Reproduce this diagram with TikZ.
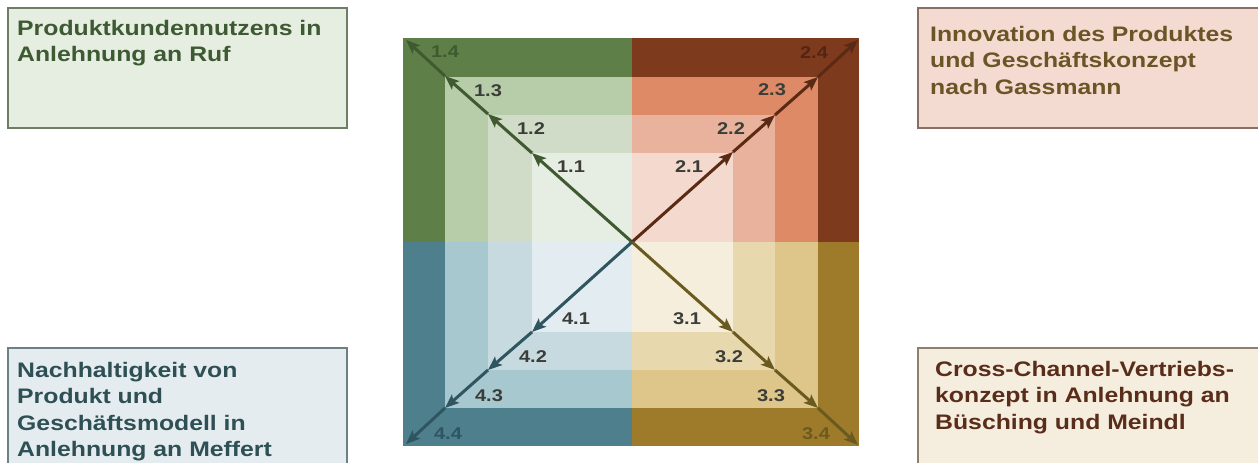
\documentclass[tikz,border=0pt]{standalone}
\usepackage{fontspec}
\setmainfont{Liberation Sans}[FakeStretch=1.18]
\usetikzlibrary{arrows.meta}
% quadrant colours
\definecolor{gA}{HTML}{5E8048}\definecolor{gB}{HTML}{B7CCA8}\definecolor{gC}{HTML}{D0DCC8}\definecolor{gD}{HTML}{E6EEE3}
\definecolor{rA}{HTML}{7E3A1C}\definecolor{rB}{HTML}{DE8A66}\definecolor{rC}{HTML}{E8B29C}\definecolor{rD}{HTML}{F4D9CE}
\definecolor{yA}{HTML}{9E7B2A}\definecolor{yB}{HTML}{DEC68A}\definecolor{yC}{HTML}{E8D8AE}\definecolor{yD}{HTML}{F5EEDC}
\definecolor{bA}{HTML}{4E7F8C}\definecolor{bB}{HTML}{A8C8D0}\definecolor{bC}{HTML}{C6DAE0}\definecolor{bD}{HTML}{E3ECF0}
% arrow colours
\definecolor{gL}{HTML}{3F5A30}\definecolor{rL}{HTML}{5A2A14}\definecolor{yL}{HTML}{6B5A20}\definecolor{bL}{HTML}{2F5560}
% label colours
\definecolor{lblgray}{HTML}{3B3D38}
% box colours
\definecolor{tlfill}{HTML}{E6EDE1}\definecolor{tldraw}{HTML}{6E7E66}\definecolor{tltext}{HTML}{3D5A33}
\definecolor{trfill}{HTML}{F3DBD1}\definecolor{trdraw}{HTML}{8A6E64}\definecolor{trtext}{HTML}{6B5526}
\definecolor{blfill}{HTML}{E4ECEF}\definecolor{bldraw}{HTML}{6C8085}\definecolor{bltext}{HTML}{2E5055}
\definecolor{brfill}{HTML}{F5EDDE}\definecolor{brdraw}{HTML}{8C806C}\definecolor{brtext}{HTML}{5A2D1B}
\begin{document}
\begin{tikzpicture}[x=1pt,y=-1pt,
  arr/.style={line width=3pt,-{Stealth[length=14pt,width=11pt,inset=3pt]}},
  lbl/.style={font=\bfseries\fontsize{17}{17}\selectfont,inner sep=0pt,text=lblgray},
  infobox/.style={line width=1.3pt},
  boxtext/.style={font=\bfseries\fontsize{21}{26.5}\selectfont,align=left,inner sep=0pt,anchor=north west}]
\useasboundingbox (0,0) rectangle (1258,463);
\clip (0,0) rectangle (1258,463);
% quadrant 1 (green, top left)
\fill[gA] (403,38) rectangle (632,242);
\fill[gB] (445,77) rectangle (632,242);
\fill[gC] (488,115) rectangle (632,242);
\fill[gD] (532,153) rectangle (632,242);
% quadrant 2 (red, top right)
\fill[rA] (632,38) rectangle (859,242);
\fill[rB] (632,77) rectangle (818,242);
\fill[rC] (632,115) rectangle (775,242);
\fill[rD] (632,153) rectangle (733,242);
% quadrant 3 (gold, bottom right)
\fill[yA] (632,242) rectangle (859,446);
\fill[yB] (632,242) rectangle (818,408);
\fill[yC] (632,242) rectangle (775,370);
\fill[yD] (632,242) rectangle (733,332);
% quadrant 4 (blue, bottom left)
\fill[bA] (403,242) rectangle (632,446);
\fill[bB] (445,242) rectangle (632,408);
\fill[bC] (488,242) rectangle (632,370);
\fill[bD] (532,242) rectangle (632,332);
% coordinates
\coordinate (c) at (632,242);
\coordinate (p11) at (532,153);\coordinate (p12) at (488,114);\coordinate (p13) at (445,76);\coordinate (p14) at (406,40);
\coordinate (p21) at (733,152);\coordinate (p22) at (775,115);\coordinate (p23) at (818,77);\coordinate (p24) at (858,40);
\coordinate (p31) at (733,332);\coordinate (p32) at (775,370);\coordinate (p33) at (818,408);\coordinate (p34) at (858,445);
\coordinate (p41) at (532,332);\coordinate (p42) at (488,370);\coordinate (p43) at (445,408);\coordinate (p44) at (406,444);
% arrows
\draw[arr,gL] (c) -- (p11);\draw[arr,gL] (p11) -- (p12);\draw[arr,gL] (p12) -- (p13);\draw[arr,gL] (p13) -- (p14);
\draw[arr,rL] (c) -- (p21);\draw[arr,rL] (p21) -- (p22);\draw[arr,rL] (p22) -- (p23);\draw[arr,rL] (p23) -- (p24);
\draw[arr,yL] (c) -- (p31);\draw[arr,yL] (p31) -- (p32);\draw[arr,yL] (p32) -- (p33);\draw[arr,yL] (p33) -- (p34);
\draw[arr,bL] (c) -- (p41);\draw[arr,bL] (p41) -- (p42);\draw[arr,bL] (p42) -- (p43);\draw[arr,bL] (p43) -- (p44);
% labels
\node[lbl] (l11) at (571,167) {1.1};
\node[lbl] (l12) at (531,129) {1.2};
\node[lbl] (l13) at (488,91) {1.3};
\node[lbl,text=gL] (l14) at (445,52) {1.4};
\node[lbl] (l21) at (689,167) {2.1};
\node[lbl] (l22) at (731,129) {2.2};
\node[lbl] (l23) at (772,90) {2.3};
\node[lbl,text=rL!90!black] (l24) at (814,53) {2.4};
\node[lbl] (l31) at (687,319) {3.1};
\node[lbl] (l32) at (729,357) {3.2};
\node[lbl] (l33) at (771,396) {3.3};
\node[lbl,text=yL] (l34) at (816,434) {3.4};
\node[lbl] (l41) at (576,319) {4.1};
\node[lbl] (l42) at (533,357) {4.2};
\node[lbl] (l43) at (489,396) {4.3};
\node[lbl,text=bL] (l44) at (448,434) {4.4};
% boxes
\draw[infobox,fill=tlfill,draw=tldraw] (8,8) rectangle (347,128);
\draw[infobox,fill=trfill,draw=trdraw] (918,8) rectangle (1265,128);
\draw[infobox,fill=blfill,draw=bldraw] (8,348) rectangle (347,470);
\draw[infobox,fill=brfill,draw=brdraw] (918,348) rectangle (1265,470);
\node[boxtext,text=tltext] (t1) at (17,20) {Produktkundennutzens in\\Anlehnung an Ruf};
\node[boxtext,text=trtext] (t2) at (930,26) {Innovation des Produktes\\und Geschäftskonzept\\nach Gassmann};
\node[boxtext,text=bltext] (t4) at (17,362) {Nachhaltigkeit von\\Produkt und\\Geschäftsmodell in\\Anlehnung an Meffert};
\node[boxtext,text=brtext] (t3) at (935,361) {Cross-Channel-Vertriebs-\\konzept in Anlehnung an\\Büsching und Meindl};
\end{tikzpicture}
\end{document}
